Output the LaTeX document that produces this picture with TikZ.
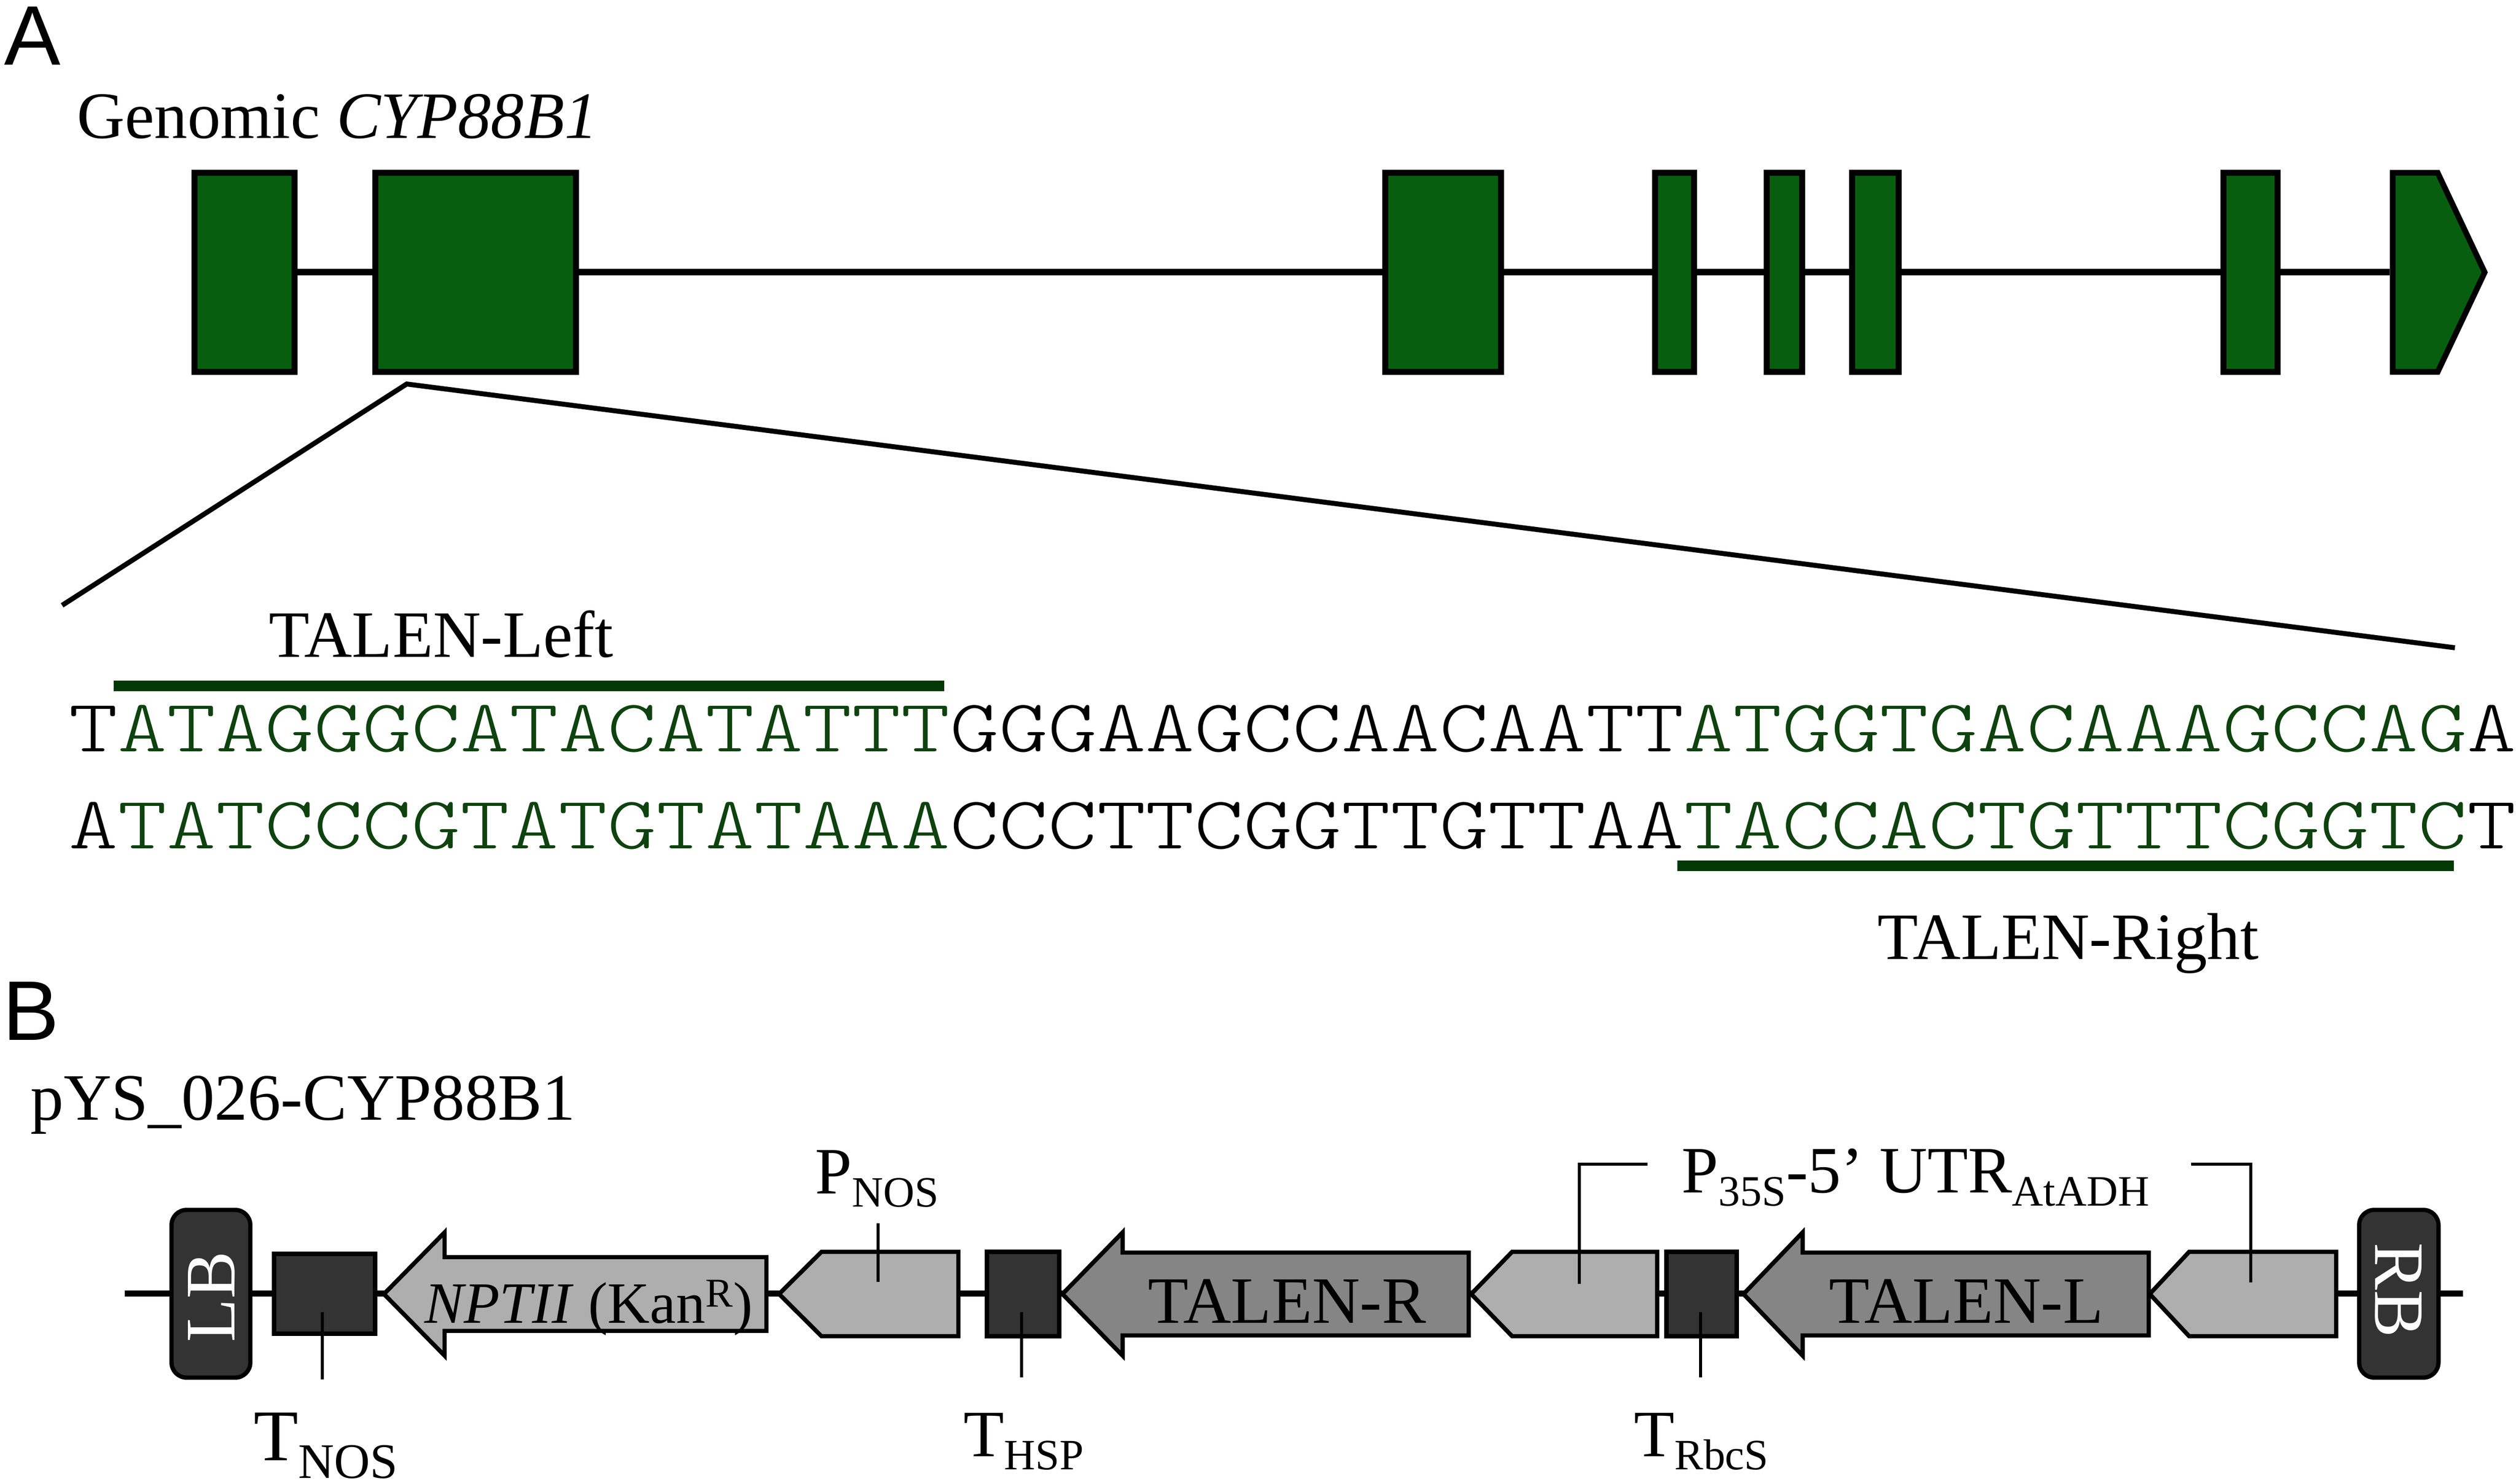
\documentclass[tikz,border=0pt]{standalone}
\usepackage{fontspec}
\setmainfont{Liberation Serif}
\newfontfamily\panelfont{Liberation Sans}
\newfontfamily\seqfont[FakeStretch=1.25]{Latin Modern Mono Light}
\definecolor{exongreen}{RGB}{8,94,15}
\definecolor{seqgreen}{RGB}{14,66,14}
\definecolor{bargreen}{RGB}{4,56,4}
\definecolor{darkbox}{RGB}{51,51,51}
\definecolor{midgrey}{RGB}{133,133,133}
\definecolor{lightgrey}{RGB}{174,174,174}
\tikzset{
	exon/.style={draw=black,fill=exongreen,line width=3.2pt,inner sep=0pt,minimum height=3.94cm},
	intron/.style={line width=3.7pt},
	zoomline/.style={line width=2.8pt},
	talenbar/.style={draw=bargreen,line width=6pt},
	elem/.style={draw=black,fill=darkbox,line width=2.4pt,inner sep=0pt},
	border/.style={elem,rounded corners=0.3cm,minimum height=3.32cm},
	tick/.style={line width=1.5pt},
	lbl/.style={anchor=base west,inner sep=0pt,font=\fontsize{37.3}{40}\selectfont},
	seq/.style={anchor=base west,inner sep=0pt,font=\seqfont\fontsize{42}{46}\selectfont},
	panel/.style={anchor=base west,inner sep=0pt,font=\panelfont\fontsize{47.6}{50}\selectfont},
	bordertxt/.style={inner sep=0pt,text=white,font=\fontsize{40}{42}\selectfont}
}
% tip : shoulder : end : half body : half head, all on the backbone
\def\genearrow[#1](#2:#3:#4:#5:#6){\draw[draw=black,line width=2.4pt,#1] (#2,25.61) -- (#3,25.61-#6) -- (#3,25.61-#5) -- (#4,25.61-#5) -- (#4,25.61+#5) -- (#3,25.61+#5) -- (#3,25.61+#6) -- cycle;}
\def\lowsub#1{\raisebox{-7.5pt}{\fontsize{24.4}{24}\selectfont #1}}

\begin{document}
\begin{tikzpicture}[y=-1cm]
	\useasboundingbox (0,0) rectangle (49.8,29.37);
	%%%%% PANEL A %%%%%
	\node[panel] (panela) at (0.08,1.29) {A};
	\node[lbl] (genomic) at (1.52,2.74) {Genomic \textit{CYP88B1}};

	\node[exon,minimum width=1.98cm] (ex1) at (4.84,5.39) {};
	\node[exon,minimum width=3.97cm] (ex2) at (9.415,5.39) {};
	\node[exon,minimum width=2.29cm] (ex3) at (28.565,5.39) {};
	\node[exon,minimum width=0.77cm] (ex4) at (33.145,5.39) {};
	\node[exon,minimum width=0.70cm] (ex5) at (35.32,5.39) {};
	\node[exon,minimum width=0.92cm] (ex6) at (37.12,5.39) {};
	\node[exon,minimum width=1.07cm] (ex7) at (44.545,5.39) {};
	\draw[fill=exongreen,line width=3.2pt] (47.36,3.42) -- (48.25,3.42) -- (49.18,5.39) -- (48.25,7.36) -- (47.36,7.36) -- cycle;
	\coordinate (ex8) at (47.30,5.39);

	\draw[intron] (ex1) -- (ex2);
	\draw[intron] (ex2) -- (ex3);
	\draw[intron] (ex3) -- (ex4);
	\draw[intron] (ex4) -- (ex5);
	\draw[intron] (ex5) -- (ex6);
	\draw[intron] (ex6) -- (ex7);
	\draw[intron] (ex7) -- (ex8);

	\coordinate (apex) at (8.05,7.60);
	\coordinate (zoomleft) at (1.23,11.98);
	\coordinate (zoomright) at (48.59,12.82);
	\draw[zoomline] (zoomleft) -- (apex) -- (zoomright);

	\node[lbl] (talenleft) at (5.32,13.00) {TALEN-Left};
	\coordinate (barla) at (2.25,13.575);
	\coordinate (barlb) at (18.69,13.575);
	\draw[talenbar] (barla) -- (barlb);

	\node[seq] (seqtop) at (1.36,14.87) {T\textcolor{seqgreen}{ATAGGGCATACATATTT}GGGAAGCCAACAATT\textcolor{seqgreen}{ATGGTGACAAAGCCAG}A};
	\node[seq] (seqbot) at (1.36,16.79) {A\textcolor{seqgreen}{TATCCCGTATGTATAAA}CCCTTCGGTTGTTAA\textcolor{seqgreen}{TACCACTGTTTCGGTC}T};

	\coordinate (barra) at (33.20,17.135);
	\coordinate (barrb) at (48.57,17.135);
	\draw[talenbar] (barra) -- (barrb);
	\node[lbl] (talenright) at (37.16,18.98) {TALEN-Right};

	%%%%% PANEL B %%%%%
	\node[panel] (panelb) at (0.05,20.58) {B};
	\node[lbl] (plasmid) at (0.60,22.16) {pYS\_026-CYP88B1};

	\coordinate (bbleft) at (2.47,25.60);
	\coordinate (bbright) at (48.75,25.60);
	\draw[intron,line width=3.4pt] (bbleft) -- (bbright);

	\node[border,minimum width=1.56cm] (lb) at (4.175,25.605) {};
	\node[border,minimum width=1.57cm] (rb) at (47.48,25.605) {};
	\node[bordertxt,rotate=90] (lbtxt) at (4.19,25.67) {LB};
	\node[bordertxt,rotate=-90] (rbtxt) at (47.47,25.53) {RB};

	\node[elem,minimum width=2.00cm,minimum height=1.58cm] (tnos) at (6.425,25.605) {};
	\node[elem,minimum width=1.43cm,minimum height=1.67cm] (thsp) at (20.25,25.61) {};
	\node[elem,minimum width=1.39cm,minimum height=1.67cm] (trbcs) at (33.68,25.61) {};

	\genearrow[fill=lightgrey](7.60:8.80:15.17:0.73:1.22);
	\genearrow[fill=lightgrey](15.42:16.26:18.97:0.835:0.835);
	\genearrow[fill=midgrey](21.03:22.22:29.07:0.82:1.22);
	\genearrow[fill=lightgrey](29.12:29.93:32.80:0.835:0.835);
	\genearrow[fill=midgrey](34.51:35.68:42.53:0.82:1.22);
	\genearrow[fill=lightgrey](42.55:43.33:46.24:0.835:0.835);

	\node[lbl,font=\fontsize{33}{36}\selectfont] (nptii) at (8.40,26.18) {\textit{NPTII} (Kan\textsuperscript{R})};
	\node[lbl] (talenr) at (22.72,26.18) {TALEN-R};
	\node[lbl] (talenl) at (36.20,26.18) {TALEN-L};

	\node[lbl] (pnos) at (16.13,23.62) {P\lowsub{NOS}};
	\node[lbl] (p35s) at (33.28,23.60) {P\lowsub{35S}-5’ UTR\lowsub{AtADH}};
	\node[lbl,font=\fontsize{41}{44}\selectfont] (tnoslbl) at (5.02,28.90) {T\raisebox{-10pt}{\fontsize{28}{28}\selectfont NOS}};
	\node[lbl] (thsplbl) at (19.07,28.82) {T\lowsub{HSP}};
	\node[lbl] (trbcslbl) at (32.34,28.82) {T\lowsub{RbcS}};

	\coordinate (tnosa) at (6.38,25.97);
	\coordinate (tnosb) at (6.38,27.30);
	\draw[tick] (tnosa) -- (tnosb);
	\coordinate (pnosa) at (17.38,24.21);
	\coordinate (pnosb) at (17.38,25.37);
	\draw[tick] (pnosa) -- (pnosb);
	\coordinate (thspa) at (20.22,25.97);
	\coordinate (thspb) at (20.22,27.26);
	\draw[tick] (thspa) -- (thspb);
	\coordinate (trbcsa) at (33.66,25.97);
	\coordinate (trbcsb) at (33.66,27.26);
	\draw[tick] (trbcsa) -- (trbcsb);
	\coordinate (utra) at (32.58,23.04);
	\coordinate (utrb) at (31.26,23.04);
	\coordinate (utrc) at (31.26,25.38);
	\draw[tick,line cap=rect] (utra) -- (utrb) -- (utrc);
	\coordinate (utrd) at (43.37,23.04);
	\coordinate (utre) at (44.55,23.04);
	\coordinate (utrf) at (44.55,25.38);
	\draw[tick] (utrd) -- (utre) -- (utrf);
\end{tikzpicture}
\end{document}
